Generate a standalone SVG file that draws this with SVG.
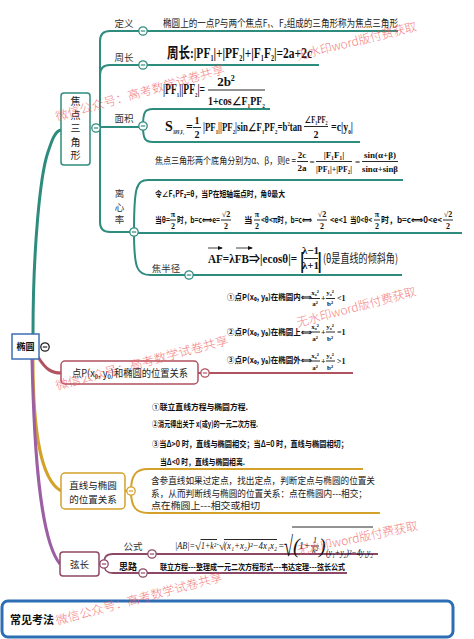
<svg xmlns="http://www.w3.org/2000/svg" width="474" height="639" viewBox="0 0 474 639">
<defs>
<style>
.t{font-family:"Noto Sans CJK SC","Noto Sans",sans-serif;fill:#222}
.tb{font-family:"Noto Sans CJK SC","Noto Sans",sans-serif;fill:#111;font-weight:bold}
.m{font-family:"Liberation Serif","Noto Sans CJK SC",serif;font-weight:bold;fill:#111}
.mi{font-family:"Liberation Serif","Noto Sans CJK SC",serif;font-style:italic;fill:#111}
.lbl{font-family:"Noto Sans CJK SC",sans-serif;fill:#333;font-size:9.5px;text-anchor:middle}
.mid{text-anchor:middle}
.fl{stroke:#111;stroke-width:0.9;fill:none}
.teal{fill:none;stroke:#2e8c7e;stroke-width:2}
.maroon{fill:none;stroke:#b0525f;stroke-width:2}
.gold{fill:none;stroke:#d4a12a;stroke-width:2}
.plum{fill:none;stroke:#8c4866;stroke-width:1.8}
.box{fill:#fff;stroke-width:1.5}
.wm{font-family:"Noto Sans CJK SC",sans-serif;fill:#f05050;opacity:.72;font-size:12px;font-weight:300}
</style>
<g id="col"><circle r="4.2" fill="#fff" stroke="currentColor" stroke-width="1.3"/><path d="M-2.2 0H2.2" stroke="currentColor" stroke-width="1.2"/></g>
<marker id="ah" markerUnits="userSpaceOnUse" markerWidth="5" markerHeight="4" refX="4" refY="2" orient="auto"><path d="M0,0 L5,2 L0,4 z" fill="#111"/></marker>
</defs>

<g id="connectors">
<path d="M33,334 C33,250 40,175 48,152 C52,140 55,131 61,130" fill="none" stroke="#2e8c7e" stroke-width="3"/>
<path d="M38,357 C46,370 52,373 61,373" fill="none" stroke="#b0525f" stroke-width="3"/>
<path d="M33,359 C33,420 38,478 61,491" fill="none" stroke="#d4a12a" stroke-width="3"/>
<path d="M32,359 C34,450 40,540 60,564" fill="none" stroke="#9c5fa3" stroke-width="3"/>
<path class="teal" d="M100,128 V41 Q100,31 110,31 H398"/>
<path class="teal" d="M100,128 V75 Q100,65 110,65 H319"/>
<path class="teal" d="M92,127 H139"/>
<path class="teal" d="M100,128 V222 Q100,232 110,232 H130"/>
<path class="teal" d="M143,126 C143,112 145,109 153,109 H270"/>
<path class="teal" d="M143,126 C143,139 145,142 153,142 H360"/>
<path class="teal" d="M134,232 C134,188 136,180 148,180 H403"/>
<path class="teal" d="M134,233 H462"/>
<path class="teal" d="M134,232 C134,268 137,275 150,275 H402"/>
<path class="maroon" d="M198,373 H353"/>
<path class="gold" d="M125,491 H131"/>
<path class="gold" d="M131,491 C131,475 136,469 148,469 H363"/>
<path class="gold" d="M131,491 C131,507 136,513 148,513 H380"/>
<path class="plum" d="M99,564 H104"/>
<path class="plum" d="M104,564 C104,557 106,554 113,554 H378"/>
<path class="plum" d="M104,564 C104,570 106,573 113,573 H347"/>
</g>

<g id="node-root">
<rect x="12" y="334" width="27" height="25" fill="#fff" stroke="#3d6fb6" stroke-width="1.5"/>
<text class="tb mid" x="25.5" y="350" font-size="9">椭圆</text>
<use href="#col" x="45" y="347" style="color:#222"/>
</g>

<g id="node-jiaodian">
<rect class="box" x="61" y="93" width="29" height="72" rx="3" stroke="#2e8c7e"/>
<text class="t mid" font-size="10" x="75.5"><tspan x="75.5" y="105">焦</tspan><tspan x="75.5" y="118.5">点</tspan><tspan x="75.5" y="132">三</tspan><tspan x="75.5" y="145.5">角</tspan><tspan x="75.5" y="159">形</tspan></text>
<use href="#col" x="96" y="128" style="color:#2e8c7e"/>
</g>

<g id="node-dingyi">
<text class="lbl" x="124" y="27">定义</text>
<use href="#col" x="143" y="31" style="color:#2e8c7e"/>
<text class="t" x="163" y="27" font-size="10" textLength="235" lengthAdjust="spacingAndGlyphs">椭圆上的一点P与两个焦点F₁、F₂组成的三角形称为焦点三角形</text>
</g>

<g id="node-zhouchang">
<text class="lbl" x="124" y="61">周长</text>
<use href="#col" x="143" y="65" style="color:#2e8c7e"/>
<text class="m" x="167" y="58" font-size="15" textLength="145" lengthAdjust="spacingAndGlyphs">周长:|PF<tspan font-size="8" dy="3">1</tspan><tspan dy="-3">|+|PF</tspan><tspan font-size="8" dy="3">2</tspan><tspan dy="-3">|+|F</tspan><tspan font-size="8" dy="3">1</tspan><tspan dy="-3">F</tspan><tspan font-size="8" dy="3">2</tspan><tspan dy="-3">|=2a+2c</tspan></text>
</g>

<g id="node-mianji">
<text class="lbl" x="124" y="122">面积</text>
<use href="#col" x="143" y="126" style="color:#2e8c7e"/>
<text class="m" x="163" y="94" font-size="14" textLength="42" lengthAdjust="spacingAndGlyphs">|PF<tspan font-size="7" dy="3">1</tspan><tspan dy="-3">||PF</tspan><tspan font-size="7" dy="3">2</tspan><tspan dy="-3">|=</tspan></text>
<text class="m mid" x="226" y="86" font-size="13">2b<tspan font-size="8" dy="-5">2</tspan></text>
<path class="fl" d="M208,90 H265"/>
<text class="m" x="208" y="105" font-size="13" textLength="57" lengthAdjust="spacingAndGlyphs">1+cos∠F<tspan font-size="7" dy="3">1</tspan><tspan dy="-3">PF</tspan><tspan font-size="7" dy="3">2</tspan></text>
<text class="m" x="165" y="131" font-size="14">S</text>
<text class="m" x="173" y="134" font-size="5.5" textLength="11" lengthAdjust="spacingAndGlyphs">ΔPF₁F₂</text>
<text class="m" x="186" y="131" font-size="12">=</text>
<text class="m mid" x="197" y="124" font-size="10">1</text>
<path class="fl" d="M193,127.5 H201"/>
<text class="m mid" x="197" y="138" font-size="10">2</text>
<text class="m" x="203" y="131" font-size="13" textLength="99" lengthAdjust="spacingAndGlyphs">|PF<tspan font-size="7" dy="3">1</tspan><tspan dy="-3">||PF</tspan><tspan font-size="7" dy="3">2</tspan><tspan dy="-3">|sin∠F</tspan><tspan font-size="7" dy="3">1</tspan><tspan dy="-3">PF</tspan><tspan font-size="7" dy="3">2</tspan><tspan dy="-3">=b</tspan><tspan font-size="7" dy="-5">2</tspan><tspan dy="5">tan</tspan></text>
<text class="m mid" x="316" y="123" font-size="10" textLength="23" lengthAdjust="spacingAndGlyphs">∠F₁PF₂</text>
<path class="fl" d="M304,126.5 H328"/>
<text class="m mid" x="316" y="138" font-size="10">2</text>
<text class="m" x="331" y="131" font-size="13" textLength="22" lengthAdjust="spacingAndGlyphs">=c|y<tspan font-size="7" dy="3">0</tspan><tspan dy="-3">|</tspan></text>
</g>

<g id="node-lixinlv">
<text class="lbl"><tspan x="119.5" y="197">离</tspan><tspan x="119.5" y="210.5">心</tspan><tspan x="119.5" y="223">率</tspan></text>
<use href="#col" x="134" y="232" style="color:#2e8c7e"/>
<text class="t" x="155" y="164" font-size="9.5" textLength="141" lengthAdjust="spacingAndGlyphs">焦点三角形两个底角分别为α、β，则e =</text>
<text class="m mid" x="302" y="158" font-size="9">2c</text>
<path class="fl" d="M297,161.5 H308"/>
<text class="m mid" x="302" y="171" font-size="9">2a</text>
<text class="m" x="309.5" y="165" font-size="9">=</text>
<text class="m mid" x="334" y="158" font-size="9">|F₁F₁|</text>
<path class="fl" d="M316,161.5 H352"/>
<text class="m" x="316" y="172" font-size="9" textLength="36" lengthAdjust="spacingAndGlyphs">|PF₁|+|PF₂|</text>
<text class="m" x="355" y="165" font-size="9">=</text>
<text class="m mid" x="380" y="158" font-size="9">sin(α+β)</text>
<path class="fl" d="M362,161.5 H398"/>
<text class="m" x="362" y="172" font-size="9" textLength="36" lengthAdjust="spacingAndGlyphs">sinα+sinβ</text>
<text class="tb" x="155" y="197" font-size="8.5" textLength="130" lengthAdjust="spacingAndGlyphs">令∠F₁PF₂=θ，当P在短轴端点时，角θ最大</text>
<text class="tb" x="155" y="223" font-size="8.5" textLength="15" lengthAdjust="spacingAndGlyphs">当θ=</text>
<text class="m mid" x="173" y="217" font-size="8">π</text><path class="fl" d="M170,220 H176"/><text class="m mid" x="173" y="229" font-size="8">2</text>
<text class="tb" x="177" y="223" font-size="8.5" textLength="43" lengthAdjust="spacingAndGlyphs">时，b=c⟺e=</text>
<text class="m mid" x="226" y="217" font-size="8">√2</text><path class="fl" d="M221,220 H231"/><text class="m mid" x="226" y="229" font-size="8">2</text>
<text class="tb" x="244" y="223" font-size="8.5">当</text>
<text class="m mid" x="257" y="217" font-size="8">π</text><path class="fl" d="M254,220 H260"/><text class="m mid" x="257" y="229" font-size="8">2</text>
<text class="tb" x="261" y="223" font-size="8.5" textLength="51" lengthAdjust="spacingAndGlyphs">&lt;θ&lt;π时，b=c⟺</text>
<text class="m mid" x="322" y="217" font-size="8">√2</text><path class="fl" d="M317,220 H327"/><text class="m mid" x="322" y="229" font-size="8">2</text>
<text class="tb" x="330" y="223" font-size="8.5" textLength="17" lengthAdjust="spacingAndGlyphs">&lt;e&lt;1</text>
<text class="tb" x="350" y="223" font-size="8.5" textLength="22" lengthAdjust="spacingAndGlyphs">当0&lt;θ&lt;</text>
<text class="m mid" x="377" y="217" font-size="8">π</text><path class="fl" d="M374,220 H380"/><text class="m mid" x="377" y="229" font-size="8">2</text>
<text class="tb" x="381" y="223" font-size="8.5" textLength="61" lengthAdjust="spacingAndGlyphs">时，b=c⟺0&lt;e&lt;</text>
<text class="m mid" x="448" y="217" font-size="8">√2</text><path class="fl" d="M443,220 H453"/><text class="m mid" x="448" y="229" font-size="8">2</text>
</g>

<g id="node-jiaobanjing">
<text class="lbl" x="166" y="272">焦半径</text>
<use href="#col" x="189" y="275" style="color:#2e8c7e"/>
<text class="m" x="208" y="263" font-size="13" textLength="89" lengthAdjust="spacingAndGlyphs">AF=λFB⇒|ecosθ|=</text>
<path d="M208,248 H222" stroke="#111" stroke-width="0.8" marker-end="url(#ah)"/>
<path d="M236,248 H252" stroke="#111" stroke-width="0.8" marker-end="url(#ah)"/>
<text class="m" x="299.5" y="268" font-size="24">|</text>
<text class="m mid" x="310.5" y="254" font-size="11">λ−1</text>
<path class="fl" d="M304,258.5 H318"/>
<text class="m mid" x="310.5" y="269" font-size="11">λ+1</text>
<text class="m" x="317" y="268" font-size="24">|</text>
<text class="t" x="323" y="263" font-size="12" textLength="75" lengthAdjust="spacingAndGlyphs">(θ是直线的倾斜角)</text>
</g>

<g id="node-dianP">
<rect class="box" x="61" y="361" width="137" height="23" rx="4" stroke="#b0525f"/>
<text class="t" x="72" y="377" font-size="10.5" textLength="116" lengthAdjust="spacingAndGlyphs">点P(x₀, y₀)和椭圆的位置关系</text>
<use href="#col" x="205" y="373" style="color:#b0525f"/>
<text class="tb" x="227" y="300" font-size="8" textLength="84" lengthAdjust="spacingAndGlyphs">①点P(x₀, y₀)在椭圆内⟺</text>
<text class="m mid" x="315" y="295" font-size="7">x₀²</text><path class="fl" d="M311,298.5 H320"/><text class="m mid" x="315" y="306" font-size="7">a²</text>
<text class="m" x="321" y="301" font-size="8">+</text>
<text class="m mid" x="330" y="295" font-size="7">y₀²</text><path class="fl" d="M326,298.5 H335"/><text class="m mid" x="330" y="306" font-size="7">b²</text>
<text class="m" x="337" y="301" font-size="8">&lt;1</text>
<text class="tb" x="227" y="335" font-size="8" textLength="84" lengthAdjust="spacingAndGlyphs">②点P(x₀, y₀)在椭圆上⟺</text>
<text class="m mid" x="315" y="329" font-size="7">x₀²</text><path class="fl" d="M311,332 H320"/><text class="m mid" x="315" y="341" font-size="7">a²</text>
<text class="m" x="321" y="335" font-size="8">+</text>
<text class="m mid" x="330" y="329" font-size="7">y₀²</text><path class="fl" d="M326,332 H335"/><text class="m mid" x="330" y="341" font-size="7">b²</text>
<text class="m" x="337" y="335" font-size="8">=1</text>
<text class="tb" x="227" y="363" font-size="8" textLength="84" lengthAdjust="spacingAndGlyphs">③点P(x₀, y₀)在椭圆外⟺</text>
<text class="m mid" x="315" y="358" font-size="7">x₀²</text><path class="fl" d="M311,361 H320"/><text class="m mid" x="315" y="370" font-size="7">a²</text>
<text class="m" x="321" y="364" font-size="8">+</text>
<text class="m mid" x="330" y="358" font-size="7">y₀²</text><path class="fl" d="M326,361 H335"/><text class="m mid" x="330" y="370" font-size="7">b²</text>
<text class="m" x="337" y="364" font-size="8">&gt;1</text>
</g>

<g id="node-zhixian">
<rect class="box" x="61" y="473" width="64" height="36" rx="4" stroke="#d4a12a"/>
<text class="t mid" font-size="9.5"><tspan x="93" y="489">直线与椭圆</tspan><tspan x="93" y="503">的位置关系</tspan></text>
<use href="#col" x="131" y="491" style="color:#d4a12a"/>
<text class="tb" x="152" y="410" font-size="8.5" textLength="96" lengthAdjust="spacingAndGlyphs">①联立直线方程与椭圆方程.</text>
<text class="tb" x="152" y="427" font-size="8.5" textLength="106" lengthAdjust="spacingAndGlyphs">②消元得出关于 x(或y)的一元二次方程.</text>
<text class="tb" x="152" y="447" font-size="8.5" textLength="196" lengthAdjust="spacingAndGlyphs">③当Δ&gt;0 时，直线与椭圆相交；当Δ=0 时，直线与椭圆相切；</text>
<text class="tb" x="160" y="465" font-size="8.5" textLength="85" lengthAdjust="spacingAndGlyphs">当Δ&lt;0 时，直线与椭圆相离.</text>
<text class="t" x="151" y="484" font-size="9.5" textLength="224" lengthAdjust="spacingAndGlyphs">含参直线如果过定点，找出定点，判断定点与椭圆的位置关</text>
<text class="t" x="151" y="497" font-size="9.5" textLength="216" lengthAdjust="spacingAndGlyphs">系，从而判断线与椭圆的位置关系：点在椭圆内---相交；</text>
<text class="t" x="151" y="509" font-size="9.5" textLength="109" lengthAdjust="spacingAndGlyphs">点在椭圆上---相交或相切</text>
</g>

<g id="node-xianchang">
<rect class="box" x="60" y="552" width="39" height="24" rx="3" stroke="#8c4866"/>
<text class="t mid" x="79.5" y="567.5" font-size="9.5">弦长</text>
<use href="#col" x="104" y="564" style="color:#8c4866"/>
<text class="lbl" x="133" y="550">公式</text>
<use href="#col" x="152" y="554" style="color:#8c4866"/>
<text class="mi" x="175" y="549" font-size="9.5" textLength="20" lengthAdjust="spacingAndGlyphs">|AB|=</text>
<text class="mi" x="195" y="550" font-size="11">√</text>
<path class="fl" d="M200.5,539.5 H217"/>
<text class="mi" x="201" y="549" font-size="9.5" textLength="15" lengthAdjust="spacingAndGlyphs">1+k²</text>
<text class="mi" x="216.5" y="548" font-size="9.5">·</text>
<text class="mi" x="219" y="550" font-size="11">√</text>
<path class="fl" d="M224,539.5 H277"/>
<text class="mi" x="224" y="549" font-size="9.5" textLength="53" lengthAdjust="spacingAndGlyphs">(x₁+x₂)²−4x₁x₂</text>
<text class="mi" x="278" y="549" font-size="9.5">=</text>
<text class="mi" x="284" y="556" font-size="28" textLength="9" lengthAdjust="spacingAndGlyphs">√</text>
<path class="fl" d="M292,527 H373"/>
<text class="mi" x="293" y="553" font-size="20">(</text>
<text class="mi" x="299" y="549" font-size="9.5">1+</text>
<text class="mi mid" x="315" y="543" font-size="8">1</text>
<path class="fl" d="M311,546 H319"/>
<text class="mi mid" x="315" y="553" font-size="8">k²</text>
<text class="mi" x="319" y="553" font-size="20">)</text>
<text class="mi" x="326" y="556" font-size="9.5" textLength="47" lengthAdjust="spacingAndGlyphs">(y₁+y₂)²−4y₁y₂</text>
<text class="tb" x="128" y="570" font-size="9" text-anchor="middle">思路</text>
<use href="#col" x="143" y="573" style="color:#8c4866"/>
<text class="tb" x="160" y="570" font-size="8.5" textLength="185" lengthAdjust="spacingAndGlyphs">联立方程---整理成一元二次方程形式---韦达定理---弦长公式</text>
</g>

<g id="node-changjian">
<rect x="2" y="601" width="451" height="36" rx="6" fill="#fff" stroke="#2c6db3" stroke-width="3"/>
<text class="tb" x="10" y="624" font-size="11">常见考法</text>
</g>

<g id="watermarks">
<text class="wm" transform="translate(57,121) rotate(-16)" textLength="175" lengthAdjust="spacingAndGlyphs">微信公众号：高考数学试卷共享</text>
<text class="wm" transform="translate(298,60) rotate(-14)" textLength="123" lengthAdjust="spacingAndGlyphs">无水印word版付费获取</text>
<text class="wm" transform="translate(57,390) rotate(-15)" textLength="178" lengthAdjust="spacingAndGlyphs">微信公众号：高考数学试卷共享</text>
<text class="wm" transform="translate(298,327) rotate(-15)" textLength="123" lengthAdjust="spacingAndGlyphs">无水印word版付费获取</text>
<text class="wm" transform="translate(57,625) rotate(-15)" textLength="172" lengthAdjust="spacingAndGlyphs">微信公众号：高考数学试卷共享</text>
<text class="wm" transform="translate(298,555) rotate(-12)" textLength="123" lengthAdjust="spacingAndGlyphs">无水印word版付费获取</text>
</g>
</svg>
